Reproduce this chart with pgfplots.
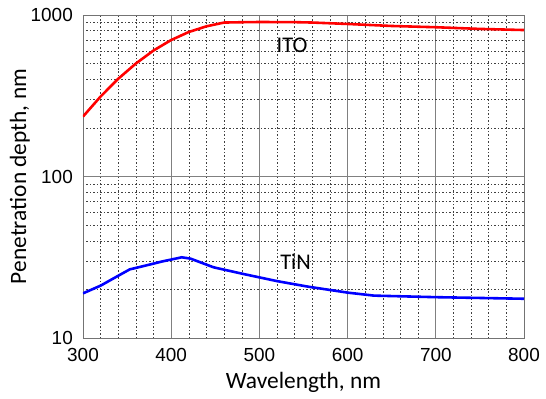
\documentclass[border=0pt]{standalone}
\usepackage{fontspec}
\setmainfont{Liberation Sans}
\newfontfamily\carlito{Carlito}
\usepackage{pgfplots}
\pgfplotsset{compat=1.18}
\begin{document}
\begin{tikzpicture}
\begin{axis}[
  scale only axis,
  width=441bp, height=323bp,
  xmin=300, xmax=800,
  ymode=log, ymin=10, ymax=1000,
  xtick={300,400,...,800},
  minor xtick={320,340,360,380,420,440,460,480,520,540,560,580,620,640,660,680,720,740,760,780},
  ytick={10,100,1000},
  yticklabels={10,100,1000},
  minor ytick={20,30,40,50,60,70,80,90,200,300,400,500,600,700,800,900},
  grid=both,
  major grid style={draw=black!50, line width=0.8pt},
  minor grid style={draw=black!75, line width=0.5pt, dash pattern=on 1.5pt off 2pt},
  axis line style={draw=black!55, line width=0.8pt},
  major tick length=0pt, minor tick length=0pt,
  /pgf/number format/assume math mode=true,
  /pgf/number format/1000 sep={},
  tick label style={font=\fontsize{19}{21}\selectfont, inner sep=0pt},
  xticklabel style={anchor=base, yshift=-23.7bp},
  yticklabel style={anchor=east, xshift=-10bp},
  xlabel={\carlito\fontsize{23.5}{25}\selectfont Wavelength, nm},
  ylabel={\carlito\fontsize{23.5}{25}\selectfont Penetration depth, nm},
  xlabel style={at={(rel axis cs:0.5,0)}, anchor=base, yshift=-51bp, inner sep=0pt},
  ylabel style={at={(rel axis cs:0,0.5)}, anchor=center, yshift=63bp, inner sep=0pt},
  clip=true,
]
\coordinate (bl) at (rel axis cs:0,0);
\coordinate (tr) at (rel axis cs:1,1);
\addplot[red, line width=2.6pt] coordinates {
(300,235) (320,313) (340,403) (360,501) (380,603) (400,700) (420,785) (440,851)
(460,898) (480,902) (500,905) (540,903) (560,898) (600,880) (650,855) (700,840)
(750,820) (800,807)
};
\addplot[blue, line width=2.6pt] coordinates {
(300,18.9) (320,21.1) (340,24.3) (353,26.6) (370,28.0) (390,29.8) (412,31.6)
(422,31.0) (448,27.4) (482,24.9) (520,22.5) (555,20.8) (600,19.1) (630,18.3)
(700,17.9) (800,17.5)
};
\node[font=\carlito\fontsize{22.5}{24}\selectfont] at (axis cs:537,645) {ITO};
\node[font=\carlito\fontsize{22.5}{24}\selectfont] at (axis cs:541,29.7) {TiN};
\end{axis}
\pgfresetboundingbox
\path ([shift={(-83bp,-61bp)}]bl) rectangle ([shift={(22bp,15bp)}]tr);
\end{tikzpicture}
\end{document}
